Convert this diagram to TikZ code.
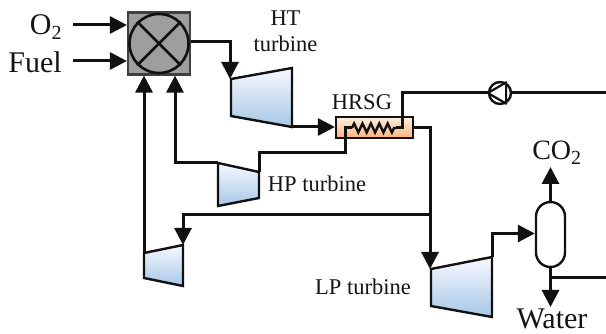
\documentclass[tikz,border=0pt]{standalone}
\usepackage{fontspec}
\setmainfont{Liberation Serif}
\usetikzlibrary{arrows.meta,decorations.pathmorphing,shapes.misc,calc}
\definecolor{lineK}{HTML}{111111}
\definecolor{txtK}{HTML}{141414}
\definecolor{turbineblue}{HTML}{A6C8E6}
\tikzset{
 x=1pt,y=-1pt,
 flow/.style={draw=lineK,line width=3pt,line join=miter},
 arrowflow/.style={flow,-{Triangle[length=17pt,width=17pt]}},
 turbine/.style={draw=lineK,line width=2.4pt,line join=miter,top color=blue!3!white,bottom color=turbineblue,shading angle=0},
 lbl/.style={text=txtK,inner sep=0pt,align=center},
 small/.style={lbl,font=\fontsize{22.5}{26}\selectfont},
 big/.style={lbl,font=\fontsize{30}{32}\selectfont},
 coil/.style={draw=lineK,line width=2.4pt,decorate,decoration={zigzag,segment length=8.4pt,amplitude=4.5pt}},
}
\begin{document}
\begin{tikzpicture}
\useasboundingbox (0,0) rectangle (606,334);
% Combustor
\node[draw=black!75,line width=2.2pt,fill=black!38,minimum size=62pt,inner sep=0pt] (mix) at (159,43.5) {};
\node[draw=lineK,line width=2.6pt,circle,minimum size=59pt,inner sep=0pt] (mixc) at (mix.center) {};
\draw[lineK,line width=2.6pt] (mixc.45) -- (mixc.225) (mixc.135) -- (mixc.315);
% Labels
\node[big] (o2) at (46,27) {O\textsubscript{\fontsize{20}{20}\selectfont 2}};
\node[big] (fuel) at (35,62) {Fuel};
\node[small] (ht) at (285.5,31) {HT\\turbine};
\node[small] (hrsg) at (362,102) {HRSG};
\node[small] (hpl) at (317,184) {HP turbine};
\node[small] (lpl) at (363,287) {LP turbine};
\node[lbl,font=\fontsize{28}{30}\selectfont] (co2) at (557,153) {CO\textsubscript{\fontsize{20}{20}\selectfont 2}};
\node[lbl,font=\fontsize{30}{30}\selectfont,anchor=base] (water) at (552,328) {Water};
% Turbines
\coordinate (htA) at (231,79); \coordinate (htB) at (292,68); \coordinate (htC) at (292,127); \coordinate (htD) at (231,116);
\coordinate (hpA) at (218,163); \coordinate (hpB) at (259,172); \coordinate (hpC) at (259,198); \coordinate (hpD) at (218,206);
\coordinate (smA) at (144,253); \coordinate (smB) at (183,245); \coordinate (smC) at (183,286); \coordinate (smD) at (144,278);
\coordinate (lpA) at (431,269); \coordinate (lpB) at (492,257); \coordinate (lpC) at (492,317); \coordinate (lpD) at (431,306);
\path[turbine] (htA)--(htB)--(htC)--(htD)--cycle;
\path[turbine] (hpA)--(hpB)--(hpC)--(hpD)--cycle;
\path[turbine] (smA)--(smB)--(smC)--(smD)--cycle;
\path[turbine] (lpA)--(lpB)--(lpC)--(lpD)--cycle;
% HRSG
\node[draw=lineK,line width=2.2pt,minimum width=77pt,minimum height=21pt,inner sep=0pt,top color=orange!12!white,bottom color=orange!45!white!90!red] (hx) at (374.5,127.5) {};
\coordinate (hxIn) at (345,128);
\coordinate (coilA) at (352,128);
\coordinate (coilB) at (396,128);
\coordinate (hxOut) at (402,128);
\coordinate (steamE) at (606,93);
\coordinate (recE) at (606,278);
% Pump
\node[draw=lineK,line width=2.4pt,circle,minimum size=22pt,inner sep=0pt,fill=white] (pump) at (500,93) {};
\draw[lineK,line width=2.2pt,line join=round] (pump.west) -- (pump.60) -- (pump.300) -- cycle;
% Separator
\node[draw=lineK,line width=2.4pt,rounded rectangle,rounded rectangle arc length=180,rotate=90,minimum width=65pt,minimum height=29pt,inner sep=0pt,fill=white] (sep) at (550.5,234.5) {};
% Connectors
\coordinate (o2s) at (73,25);
\coordinate (fs) at (73,61);
\draw[arrowflow] (o2s) -- (o2s -| mix.west);
\draw[arrowflow] (fs) -- (fs -| mix.west);
\draw[arrowflow] (mix.east |- 0,42) -- (230,42) -- (htA -| 230,0);
\draw[arrowflow] (htC) -- (hx.west |- htC);
\draw[arrowflow] (smA) -- (smA |- mix.south);
\draw[arrowflow] (hpA) -- (175,163) -- (175,0 |- mix.south);
\draw[flow] (hpB) -- (259,153) -- (345,153) -- (hxIn) -- (coilA);
\draw[coil] (coilA) -- (coilB);
\draw[flow] (coilB) -- (hxOut) -- (402,93) -- (pump.west);
\draw[flow] (pump.east) -- (steamE);
\draw[flow] (hx.east) -- (430,127.5) coordinate (hxR) -- (430,215) coordinate (junc);
\draw[arrowflow] (junc) -- (lpA -| junc);
\draw[arrowflow] (junc) -- (183,215) -- (smB);
\draw[arrowflow] (lpB) -- (492,233.5) -- (sep.north |- 0,233.5);
\draw[arrowflow] (sep.east) -- (550.5,167);
\draw[arrowflow] (sep.west) -- (550.5,307);
\draw[flow] (550.5,278) coordinate (sepJ) -- (recE);
\end{tikzpicture}
\end{document}
